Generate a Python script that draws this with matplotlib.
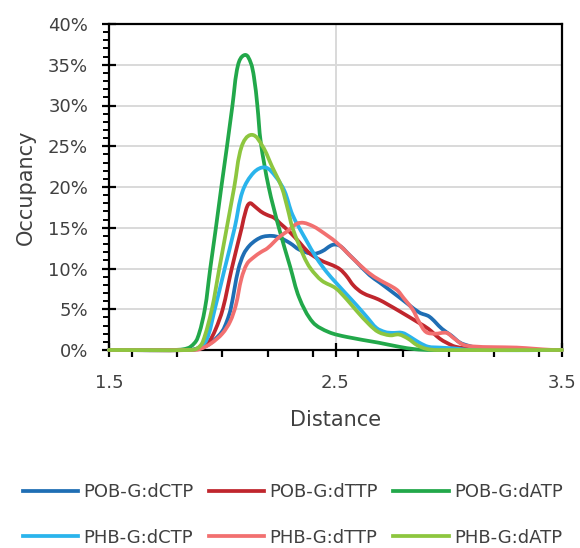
import numpy as np
import matplotlib
matplotlib.use("Agg")
import matplotlib.pyplot as plt
from matplotlib.path import Path
from matplotlib.patches import PathPatch
from matplotlib.lines import Line2D
from matplotlib.ticker import MultipleLocator, PercentFormatter

# Occupancy (%) versus distance for each base pair
pob_dctp_x = [1.50, 1.86, 1.90, 1.93, 1.96, 2.00, 2.02, 2.037, 2.054, 2.072, 2.095, 2.12, 2.15, 2.18,
              2.22, 2.253, 2.30, 2.341, 2.40, 2.44, 2.487, 2.518, 2.56, 2.593, 2.65, 2.694, 2.78,
              2.87, 2.914, 2.97, 3.01, 3.05, 3.09, 3.13, 3.20, 3.30, 3.50]
pob_dctp_y = [0.0, 0.0, 0.2, 0.5, 1.1, 2.3, 3.5, 5.0, 7.5, 10.0, 11.8, 12.8, 13.5, 13.9,
              14.0, 13.8, 13.1, 12.3, 11.8, 12.1, 12.9, 12.8, 11.7, 10.8, 9.2, 8.3, 6.5,
              4.6, 4.1, 2.6, 1.8, 0.9, 0.5, 0.25, 0.1, 0.0, 0.0]

pob_dttp_x = [1.50, 1.86, 1.90, 1.94, 1.97, 2.002, 2.042, 2.086, 2.105, 2.121, 2.14, 2.17, 2.196,
              2.23, 2.253, 2.297, 2.341, 2.38, 2.416, 2.45, 2.487, 2.52, 2.548, 2.58, 2.62,
              2.69, 2.73, 2.78, 2.87, 2.91, 2.96, 2.99, 3.03, 3.10, 3.20, 3.50]
pob_dttp_y = [0.0, 0.0, 0.3, 1.0, 2.5, 5.0, 10.0, 15.0, 17.2, 18.0, 17.7, 17.0, 16.6,
              16.2, 15.6, 14.5, 13.2, 12.0, 11.3, 10.8, 10.4, 9.9, 9.1, 7.9, 7.0,
              6.2, 5.6, 4.8, 3.3, 2.6, 1.4, 0.9, 0.4, 0.15, 0.0, 0.0]

pob_datp_x = [1.50, 1.78, 1.83, 1.86, 1.89, 1.923, 1.947, 1.972, 1.996, 2.021, 2.045, 2.07, 2.10,
              2.125, 2.14, 2.155, 2.17, 2.205, 2.25, 2.30, 2.34, 2.40, 2.47, 2.55, 2.69,
              2.78, 2.85, 2.92, 3.50]
pob_datp_y = [0.0, 0.0, 0.1, 0.4, 1.4, 5.0, 10.0, 15.0, 20.0, 25.0, 30.0, 35.0, 36.2,
              35.3, 33.5, 30.0, 25.5, 20.0, 15.0, 10.2, 6.4, 3.4, 2.2, 1.6, 0.9,
              0.4, 0.1, 0.0, 0.0]

phb_dctp_x = [1.50, 1.86, 1.89, 1.93, 1.967, 2.011, 2.055, 2.09, 2.14, 2.19, 2.235, 2.275, 2.31,
              2.37, 2.416, 2.46, 2.504, 2.55, 2.593, 2.64, 2.681, 2.72, 2.75, 2.795, 2.83,
              2.87, 2.91, 2.96, 3.02, 3.10, 3.50]
phb_dctp_y = [0.0, 0.0, 0.2, 1.2, 5.0, 10.0, 15.0, 19.5, 21.8, 22.4, 21.3, 19.5, 16.6,
              13.5, 11.3, 9.6, 8.2, 6.8, 5.5, 4.0, 2.7, 2.2, 2.1, 2.1, 1.6,
              0.9, 0.4, 0.3, 0.2, 0.0, 0.0]

phb_dttp_x = [1.50, 1.86, 1.90, 1.95, 2.00, 2.035, 2.06, 2.085, 2.11, 2.14, 2.17, 2.20, 2.253,
              2.284, 2.33, 2.36, 2.40, 2.43, 2.504, 2.593, 2.65, 2.694, 2.77, 2.80, 2.84, 2.87,
              2.90, 2.94, 2.99, 3.02, 3.06, 3.10, 3.20, 3.30, 3.38, 3.45, 3.50]
phb_dttp_y = [0.0, 0.0, 0.1, 0.8, 2.0, 3.5, 5.5, 8.8, 10.6, 11.4, 12.0, 12.5, 13.9,
              14.5, 15.5, 15.6, 15.2, 14.7, 13.2, 10.8, 9.4, 8.6, 7.4, 6.4, 5.0, 3.4,
              2.2, 2.0, 2.1, 1.5, 0.7, 0.45, 0.35, 0.3, 0.15, 0.02, 0.0]

phb_datp_x = [1.50, 1.86, 1.89, 1.914, 1.954, 1.987, 2.02, 2.053, 2.086, 2.13, 2.178, 2.22,
              2.262, 2.29, 2.31, 2.36, 2.39, 2.44, 2.50, 2.55, 2.59, 2.65, 2.69, 2.74, 2.78,
              2.82, 2.86, 2.90, 2.95, 3.50]
phb_datp_y = [0.0, 0.0, 0.2, 1.0, 5.0, 10.0, 15.0, 20.0, 25.0, 26.4, 25.0, 22.5,
              20.0, 17.2, 15.0, 11.5, 10.0, 8.5, 7.6, 6.2, 4.9, 3.1, 2.2, 1.8, 1.9,
              1.4, 0.6, 0.15, 0.0, 0.0]

series_labels = ["POB-G:dCTP", "POB-G:dTTP", "POB-G:dATP",
                 "PHB-G:dCTP", "PHB-G:dTTP", "PHB-G:dATP"]
series_colors = ["#1F6EB4", "#C0262D", "#22A84A", "#2AB4EC", "#F27070", "#8DC63F"]

x_ticks = [1.5, 2.5, 3.5]
x_tick_labels = ["1.5", "2.5", "3.5"]


def smooth_path(ax, xs, ys):
    """Smoothed line (cubic Bezier segments) built in screen space, like a spreadsheet's smoothed line."""
    pts = ax.transData.transform(np.column_stack([xs, ys]))
    n = len(pts)
    seg = np.linalg.norm(np.diff(pts, axis=0), axis=1)
    dirs = np.zeros_like(pts)
    for i in range(n):
        if i == 0:
            v = pts[1] - pts[0]
        elif i == n - 1:
            v = pts[-1] - pts[-2]
        else:
            v = pts[i + 1] - pts[i - 1]
        L = np.hypot(*v)
        dirs[i] = v / L if L > 0 else 0
    verts = [pts[0]]
    codes = [Path.MOVETO]
    for i in range(n - 1):
        d = seg[i] / 3.0
        verts += [pts[i] + dirs[i] * d, pts[i + 1] - dirs[i + 1] * d, pts[i + 1]]
        codes += [Path.CURVE4] * 3
    data_verts = ax.transData.inverted().transform(np.array(verts))
    return Path(data_verts, codes)


fig = plt.figure(figsize=(5.8, 5.48), dpi=100)
ax = fig.add_axes([109 / 580, 1 - 350 / 548, (562 - 109) / 580, (350 - 24) / 548])

text_color = "#404040"

ax.set_xlim(1.5, 3.5)
ax.set_ylim(0, 40)
ax.set_xticks(x_ticks)
ax.set_xticklabels(x_tick_labels)
ax.xaxis.set_minor_locator(MultipleLocator(0.2))
ax.yaxis.set_major_locator(MultipleLocator(5))
ax.yaxis.set_minor_locator(MultipleLocator(1))
ax.yaxis.set_major_formatter(PercentFormatter(xmax=100, decimals=0))

ax.grid(True, which="major", color="#D9D9D9", linewidth=1.4, zorder=0)
ax.set_axisbelow(True)

for side in ["left", "bottom", "top", "right"]:
    ax.spines[side].set_color("black")
    ax.spines[side].set_linewidth(1.6)

ax.tick_params(axis="x", which="major", direction="inout", length=10, width=1.6,
               pad=12, labelsize=13, labelcolor=text_color)
ax.tick_params(axis="x", which="minor", direction="out", length=5, width=1.6)
ax.tick_params(axis="y", which="major", direction="inout", length=10, width=1.6,
               pad=10, labelsize=13, labelcolor=text_color)
ax.tick_params(axis="y", which="minor", direction="out", length=4, width=1.4)

ax.set_xlabel("Distance", fontsize=15, color=text_color, labelpad=13)
ax.set_ylabel("Occupancy", fontsize=15, color=text_color, labelpad=9)

series = [(pob_dctp_x, pob_dctp_y), (pob_dttp_x, pob_dttp_y), (pob_datp_x, pob_datp_y),
          (phb_dctp_x, phb_dctp_y), (phb_dttp_x, phb_dttp_y), (phb_datp_x, phb_datp_y)]

handles = []
for (xs, ys), color, label in zip(series, series_colors, series_labels):
    patch = PathPatch(smooth_path(ax, xs, ys), facecolor="none", edgecolor=color,
                      linewidth=2.7, capstyle="round", joinstyle="round",
                      transform=ax.transData, zorder=3, clip_on=False)
    ax.add_patch(patch)
    handles.append(Line2D([], [], color=color, linewidth=2.7, label=label))

# arrange so that rows read POB (top) and PHB (bottom)
order = [0, 3, 1, 4, 2, 5]
fig.legend([handles[i] for i in order], [series_labels[i] for i in order],
           ncol=3, loc="center", bbox_to_anchor=(0.505, 1 - 515 / 548),
           frameon=False, fontsize=13, handlelength=3.05, handletextpad=0.3,
           columnspacing=0.85, labelspacing=1.5, labelcolor=text_color,
           borderpad=0.2)

fig.savefig("out.png", dpi=100)
